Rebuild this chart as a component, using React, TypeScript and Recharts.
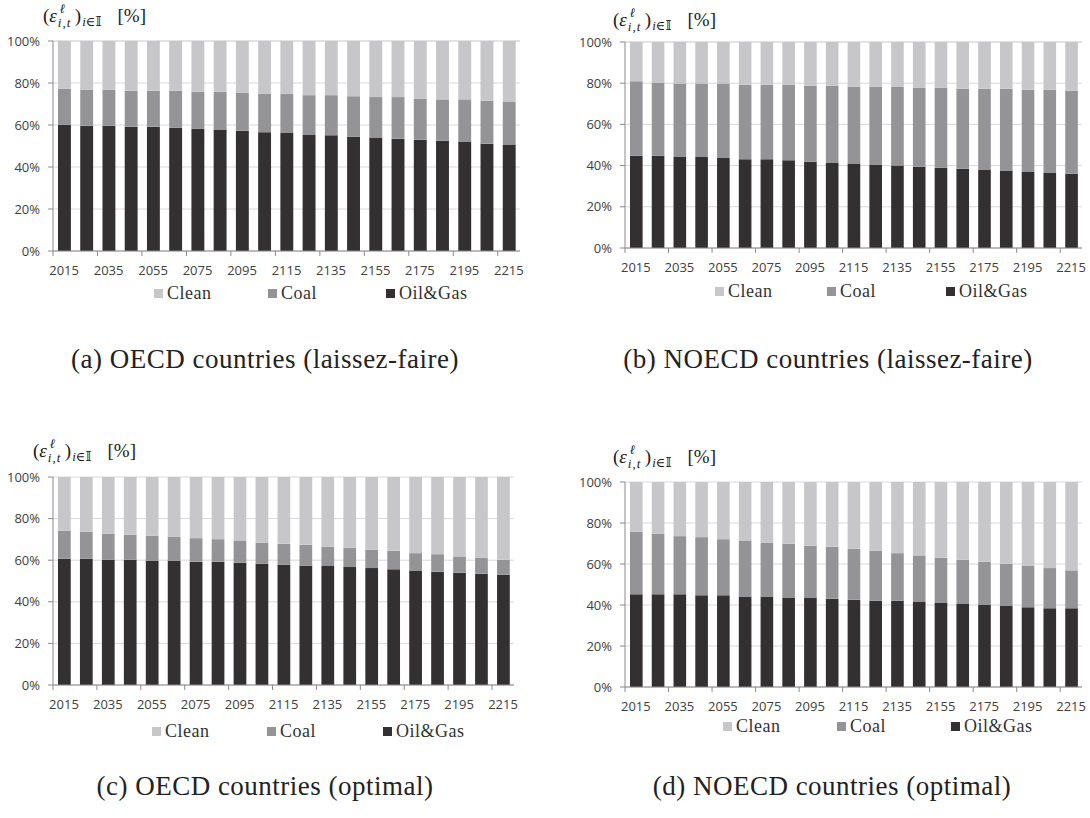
import React from 'react';
import { BarChart, Bar, XAxis, YAxis, CartesianGrid } from 'recharts';

// Emission shares by source, 2015-2215 (decadal), in percent
const YEARS = [
  '2015', '2025', '2035', '2045', '2055', '2065', '2075', '2085', '2095', '2105', '2115',
  '2125', '2135', '2145', '2155', '2165', '2175', '2185', '2195', '2205', '2215',
];
const PCT_TICKS = [0, 20, 40, 60, 80, 100];

// (a) OECD, laissez-faire
const oecdLfOilGas = [60.1, 59.7, 59.7, 59.2, 59.2, 58.7, 58.2, 57.8, 57.3, 56.6, 56.2, 55.5, 55.1, 54.4, 54.0, 53.5, 53.0, 52.5, 52.1, 51.1, 50.5];
const oecdLfCoal = [17.1, 17.0, 17.0, 17.1, 17.1, 17.6, 17.6, 18.0, 18.0, 18.2, 18.6, 18.7, 19.1, 19.3, 19.3, 19.8, 19.6, 19.7, 20.1, 20.4, 20.5];
const oecdLfClean = [22.8, 23.3, 23.3, 23.7, 23.7, 23.7, 24.2, 24.2, 24.7, 25.2, 25.2, 25.8, 25.8, 26.3, 26.7, 26.7, 27.4, 27.8, 27.8, 28.5, 29.0];

// (b) NOECD, laissez-faire
const noecdLfOilGas = [44.8, 44.8, 44.2, 44.2, 43.7, 43.1, 43.1, 42.6, 41.9, 41.5, 41.0, 40.5, 40.0, 39.5, 39.0, 38.5, 38.1, 37.6, 37.1, 36.6, 36.1];
const noecdLfCoal = [36.2, 35.5, 35.6, 35.6, 36.1, 36.1, 36.1, 36.6, 36.8, 37.2, 37.2, 37.7, 38.2, 38.2, 38.7, 38.8, 39.2, 39.7, 39.7, 40.2, 40.2];
const noecdLfClean = [19.0, 19.7, 20.2, 20.2, 20.2, 20.8, 20.8, 20.8, 21.3, 21.3, 21.8, 21.8, 21.8, 22.3, 22.3, 22.7, 22.7, 22.7, 23.2, 23.2, 23.7];

// (c) OECD, optimal
const oecdOptOilGas = [60.7, 60.7, 60.2, 60.2, 59.7, 59.7, 59.3, 59.3, 58.8, 58.3, 57.8, 57.3, 57.2, 56.7, 56.2, 55.6, 55.0, 54.5, 54.0, 53.5, 53.0];
const oecdOptCoal = [13.4, 12.9, 12.5, 12.0, 12.0, 11.5, 11.3, 10.8, 10.7, 10.1, 10.1, 10.1, 9.3, 9.3, 8.8, 8.9, 8.4, 8.4, 7.8, 7.7, 7.2];
const oecdOptClean = [25.9, 26.4, 27.3, 27.8, 28.3, 28.8, 29.4, 29.9, 30.5, 31.6, 32.1, 32.6, 33.5, 34.0, 35.0, 35.5, 36.6, 37.1, 38.2, 38.8, 39.8];

// (d) NOECD, optimal
const noecdOptOilGas = [45.2, 45.2, 45.2, 44.7, 44.7, 44.1, 44.1, 43.6, 43.6, 43.1, 42.6, 42.1, 42.1, 41.7, 41.2, 40.5, 40.0, 39.5, 38.9, 38.4, 38.4];
const noecdOptCoal = [30.5, 29.5, 28.4, 28.4, 27.4, 27.4, 26.2, 26.3, 25.3, 25.3, 24.8, 24.4, 23.2, 22.5, 21.8, 21.6, 21.1, 20.6, 20.3, 19.6, 18.5];
const noecdOptClean = [24.3, 25.3, 26.4, 26.9, 27.9, 28.5, 29.7, 30.1, 31.1, 31.6, 32.6, 33.5, 34.7, 35.8, 37.0, 37.9, 38.9, 39.9, 40.8, 42.0, 43.1];

const COLORS = {
  clean: '#c7c7c9',
  coal: '#949496',
  oilGas: '#323031',
};

const SERIES = [
  { key: 'clean', name: 'Clean' },
  { key: 'coal', name: 'Coal' },
  { key: 'oilGas', name: 'Oil&Gas' },
];

const AXIS_GRAY = '#8a8a8a';
const TICK_COLOR = '#404040';
const TICK_FONT = '"Open Sans", "Liberation Sans", sans-serif';
const SERIF = '"Liberation Serif", "DejaVu Serif", serif';

const buildRows = (oilGas: number[], coal: number[], clean: number[]) =>
  YEARS.map((year, i) => ({ year, oilGas: oilGas[i], coal: coal[i], clean: clean[i] }));

const PANELS = [
  {
    id: 'a',
    rows: buildRows(oecdLfOilGas, oecdLfCoal, oecdLfClean),
    box: { x: 0, y: 0, w: 545, h: 300 },
    plot: { l: 53, t: 41, r: 520, b: 251 },
    title: { x: 43, y: 3 },
    legend: { y: 293, xs: [154, 268, 386] },
    caption: { text: '(a) OECD countries (laissez-faire)', cx: 265, y: 344 },
  },
  {
    id: 'b',
    rows: buildRows(noecdLfOilGas, noecdLfCoal, noecdLfClean),
    box: { x: 545, y: 0, w: 545, h: 300 },
    plot: { l: 625, t: 42, r: 1082, b: 248 },
    title: { x: 613, y: 7 },
    legend: { y: 291, xs: [715, 827, 946] },
    caption: { text: '(b) NOECD countries (laissez-faire)', cx: 828, y: 344 },
  },
  {
    id: 'c',
    rows: buildRows(oecdOptOilGas, oecdOptCoal, oecdOptClean),
    box: { x: 0, y: 410, w: 545, h: 320 },
    plot: { l: 53, t: 477, r: 514, b: 685 },
    title: { x: 33, y: 438 },
    legend: { y: 731, xs: [152, 267, 383] },
    caption: { text: '(c) OECD countries (optimal)', cx: 265, y: 771 },
  },
  {
    id: 'd',
    rows: buildRows(noecdOptOilGas, noecdOptCoal, noecdOptClean),
    box: { x: 545, y: 410, w: 545, h: 320 },
    plot: { l: 625, t: 482, r: 1082, b: 687 },
    title: { x: 613, y: 444 },
    legend: { y: 726, xs: [723, 837, 951] },
    caption: { text: '(d) NOECD countries (optimal)', cx: 832, y: 771 },
  },
];

// year label centred on its bar, tick mark on the category boundary to its left
function YearTick(props: any) {
  const { x, payload, band, axisY } = props;
  const bx = x - band / 2;
  return (
    <g>
      <line x1={bx} x2={bx} y1={axisY} y2={axisY + 5} stroke={AXIS_GRAY} />
      <text
        x={x}
        y={axisY + 15}
        dy="0.71em"
        textAnchor="middle"
        fill={TICK_COLOR}
        fontSize={13}
        fontFamily={TICK_FONT}
      >
        {payload.value}
      </text>
    </g>
  );
}

// (ε^ℓ_{i,t})_{i∈𝕀} [%]
function ShareLabel({ x, y }: { x: number; y: number }) {
  const script = { position: 'absolute' as const, fontSize: 13, lineHeight: '13px', whiteSpace: 'nowrap' as const };
  return (
    <div
      style={{
        position: 'absolute',
        left: x,
        top: y,
        fontFamily: SERIF,
        fontSize: 19,
        lineHeight: '25px',
        color: '#1a1a1a',
        whiteSpace: 'nowrap',
      }}
    >
      (<i>ε</i>
      <span style={{ display: 'inline-block', position: 'relative', width: 18, height: 10 }}>
        <i style={{ ...script, left: 3, top: -10 }}>ℓ</i>
        <span style={{ ...script, left: 1, top: 4, letterSpacing: 1 }}>
          <i>i</i>,<i>t</i>
        </span>
      </span>
      )
      <span style={{ fontSize: 13, position: 'relative', top: 4, marginLeft: 1 }}>
        <i>i</i>∈𝕀
      </span>
      <span style={{ marginLeft: 16 }}>[%]</span>
    </div>
  );
}

function SourceLegend({ y, xs }: { y: number; xs: number[] }) {
  return (
    <>
      {SERIES.map((s, i) => (
        <div
          key={s.key}
          style={{
            position: 'absolute',
            left: xs[i],
            top: y - 11,
            height: 22,
            display: 'flex',
            alignItems: 'center',
            fontFamily: SERIF,
            fontSize: 18,
            letterSpacing: 0.5,
            color: '#333',
            whiteSpace: 'nowrap',
          }}
        >
          <span style={{ width: 9, height: 9, background: COLORS[s.key as keyof typeof COLORS], marginRight: 4 }} />
          {s.name}
        </div>
      ))}
    </>
  );
}

function SharePanel({ panel }: { panel: (typeof PANELS)[number] }) {
  const { box, plot } = panel;
  const band = (plot.r - plot.l) / YEARS.length;
  const xAxisH = 30;
  const margin = {
    top: plot.t - box.y,
    right: box.x + box.w - plot.r,
    left: 0,
    bottom: box.y + box.h - plot.b - xAxisH,
  };
  return (
    <>
      <div style={{ position: 'absolute', left: box.x, top: box.y }}>
        <BarChart width={box.w} height={box.h} data={panel.rows} margin={margin} barSize={band * 0.58}>
          <CartesianGrid vertical={false} stroke="#d9d9d9" />
          <XAxis
            dataKey="year"
            height={xAxisH}
            interval={1}
            axisLine={{ stroke: AXIS_GRAY }}
            tickLine={false}
            tick={<YearTick band={band} axisY={plot.b - box.y} />}
          />
          <YAxis
            type="number"
            domain={[0, 100]}
            ticks={PCT_TICKS}
            width={plot.l - box.x}
            tickFormatter={(v) => `${v}%`}
            axisLine={{ stroke: AXIS_GRAY }}
            tickLine={{ stroke: AXIS_GRAY }}
            tickSize={5}
            tickMargin={8}
            tick={{ fill: TICK_COLOR, fontSize: 13, fontFamily: TICK_FONT }}
          />
          <Bar dataKey="oilGas" stackId="s" fill={COLORS.oilGas} isAnimationActive={false} />
          <Bar dataKey="coal" stackId="s" fill={COLORS.coal} isAnimationActive={false} />
          <Bar dataKey="clean" stackId="s" fill={COLORS.clean} isAnimationActive={false} />
        </BarChart>
      </div>
      <ShareLabel x={panel.title.x} y={panel.title.y} />
      <SourceLegend y={panel.legend.y} xs={panel.legend.xs} />
      <div
        style={{
          position: 'absolute',
          left: panel.caption.cx - 250,
          width: 500,
          top: panel.caption.y,
          textAlign: 'center',
          fontFamily: SERIF,
          fontSize: 27,
          letterSpacing: 0.5,
          color: '#222',
          whiteSpace: 'nowrap',
        }}
      >
        {panel.caption.text}
      </div>
    </>
  );
}

export default function App() {
  return (
    <div
      style={{
        position: 'absolute',
        left: 0,
        top: 0,
        width: 1090,
        height: 818,
        background: '#fff',
        overflow: 'hidden',
      }}
    >
      {PANELS.map((p) => (
        <SharePanel key={p.id} panel={p} />
      ))}
    </div>
  );
}
